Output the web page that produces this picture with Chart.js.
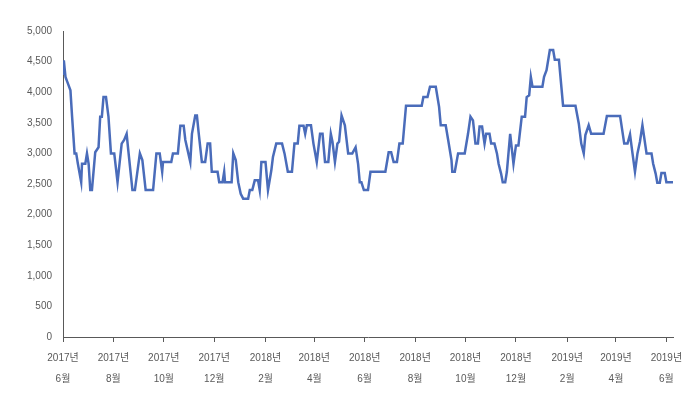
<!DOCTYPE html>
<html>
<head>
<meta charset="utf-8">
<script src="https://cdn.jsdelivr.net/npm/chart.js@4.4.1/dist/chart.umd.min.js"></script>
<style>
    html, body { margin: 0; padding: 0; background: #fff; }
    #priceChart { display: block; }
</style>
</head>
<body>
<canvas id="priceChart" width="700" height="398"></canvas>
<script>
// days counted from 2017-06-01
const startDate = '2017-06-01';
const days = [
    0, 1, 3, 6, 9, 11, 14, 16, 18, 22, 23, 27, 29, 31, 33, 35, 39, 43, 45, 47,
    49, 52, 55, 58, 62, 66, 71, 74, 77, 79, 84, 87, 93, 96, 100, 109, 113, 117, 120, 121,
    131, 133, 139, 142, 146, 148, 154, 156, 160, 162, 164, 168, 172, 175, 178, 180, 187, 189, 193, 195,
    196, 204, 206, 209, 212, 215, 218, 224, 226, 229, 232, 236, 238, 240, 245, 248, 252, 254, 258, 265,
    268, 272, 277, 280, 284, 286, 291, 293, 295, 300, 303, 307, 311, 314, 317, 321, 324, 326, 329, 332,
    334, 337, 341, 345, 350, 354, 357, 359, 361, 364, 369, 372, 390, 394, 397, 400, 404, 407, 411, 415,
    434, 436, 441, 444, 451, 455, 457, 463, 466, 470, 471, 474, 478, 486, 490, 493, 496, 499, 502, 504,
    507, 510, 512, 516, 518, 522, 525, 527, 530, 532, 535, 537, 541, 545, 548, 551, 555, 559, 561, 564,
    566, 568, 580, 582, 585, 589, 593, 595, 600, 605, 620, 624, 627, 630, 632, 636, 639, 654, 658, 674,
    679, 683, 686, 689, 692, 695, 698, 701, 706, 712, 714, 717, 719, 722, 724, 728, 730, 738
];
const prices = [
    4300, 4520, 4250, 4140, 4030, 3600, 3000, 3000, 2830, 2530, 2830, 2830, 3000, 2830, 2400, 2400, 3020, 3100, 3600, 3600,
    3920, 3920, 3600, 3000, 3000, 2530, 3160, 3220, 3320, 3050, 2400, 2400, 3000, 2890, 2400, 2400, 3000, 3000, 2700, 2860,
    2860, 3000, 3000, 3450, 3450, 3220, 2860, 3320, 3620, 3620, 3350, 2860, 2860, 3160, 3160, 2700, 2700, 2530, 2530, 2700,
    2530, 2530, 3000, 2890, 2530, 2340, 2260, 2260, 2400, 2400, 2560, 2560, 2400, 2860, 2860, 2400, 2720, 2940, 3160, 3160,
    3000, 2700, 2700, 3160, 3160, 3450, 3450, 3320, 3460, 3460, 3160, 2860, 3320, 3320, 2860, 2860, 3320, 3190, 2860, 3160,
    3190, 3620, 3460, 3000, 3000, 3100, 2830, 2530, 2530, 2400, 2400, 2700, 2700, 3020, 3020, 2860, 2860, 3160, 3160, 3780,
    3780, 3920, 3920, 4090, 4090, 3760, 3460, 3460, 3220, 2890, 2700, 2700, 3000, 3000, 3320, 3600, 3540, 3160, 3160, 3440,
    3440, 3160, 3320, 3320, 3160, 3160, 3000, 2830, 2670, 2530, 2530, 2700, 3320, 2830, 3130, 3130, 3600, 3600, 3920, 3950,
    4250, 4090, 4090, 4250, 4360, 4690, 4690, 4530, 4530, 3780, 3780, 3490, 3160, 3000, 3300, 3460, 3320, 3320, 3610, 3610,
    3160, 3160, 3310, 3000, 2700, 3000, 3190, 3460, 3000, 3000, 2830, 2670, 2520, 2520, 2680, 2680, 2530, 2530
];
const tickDates = [
    '2017-06-01', '2017-08-01', '2017-10-01', '2017-12-01', '2018-02-01', '2018-04-01', '2018-06-01',
    '2018-08-01', '2018-10-01', '2018-12-01', '2019-02-01', '2019-04-01', '2019-06-01'
];
const tickYears = ['2017년', '2017년', '2017년', '2017년', '2018년', '2018년', '2018년', '2018년', '2018년', '2018년', '2019년', '2019년', '2019년'];
const tickMonths = ['6월', '8월', '10월', '12월', '2월', '4월', '6월', '8월', '10월', '12월', '2월', '4월', '6월'];

const dayMs = 24 * 60 * 60 * 1000;
const tickDays = tickDates.map(d => Math.round((Date.parse(d) - Date.parse(startDate)) / dayMs));

const fontFamily = "'Liberation Sans', 'Noto Sans CJK KR', sans-serif";
const axisColor = '#595959';

const ctx = document.getElementById('priceChart').getContext('2d');
new Chart(ctx, {
    type: 'line',
    data: {
        datasets: [{
            data: days.map((d, i) => ({ x: d, y: prices[i] })),
            borderColor: '#4a6cba',
            borderWidth: 2.5,
            pointRadius: 0,
            tension: 0,
            fill: false
        }]
    },
    options: {
        responsive: false,
        animation: false,
        layout: { padding: { left: 0, right: 27, top: 31, bottom: 0 } },
        plugins: {
            legend: { display: false },
            tooltip: { enabled: false }
        },
        scales: {
            x: {
                type: 'linear',
                min: 0,
                max: 738,
                afterBuildTicks: (scale) => {
                    scale.ticks = tickDays.map(v => ({ value: v }));
                },
                afterFit: (scale) => { scale.height = 61; },
                ticks: {
                    autoSkip: false,
                    maxRotation: 0,
                    padding: 6,
                    color: axisColor,
                    font: { family: fontFamily, size: 10, lineHeight: 2.1 },
                    callback: (value) => {
                        const i = tickDays.indexOf(value);
                        return i < 0 ? null : [tickYears[i], tickMonths[i]];
                    }
                },
                grid: {
                    drawOnChartArea: false,
                    drawTicks: true,
                    tickLength: 5,
                    color: axisColor
                },
                border: { display: true, color: axisColor, width: 1 }
            },
            y: {
                min: 0,
                max: 5000,
                afterFit: (scale) => { scale.width = 63; },
                ticks: {
                    stepSize: 500,
                    padding: 11,
                    color: axisColor,
                    font: { family: fontFamily, size: 10 },
                    callback: (value) => value.toLocaleString('en-US')
                },
                grid: { display: false, drawTicks: false },
                border: { display: true, color: axisColor, width: 1 }
            }
        }
    }
});
</script>
</body>
</html>
